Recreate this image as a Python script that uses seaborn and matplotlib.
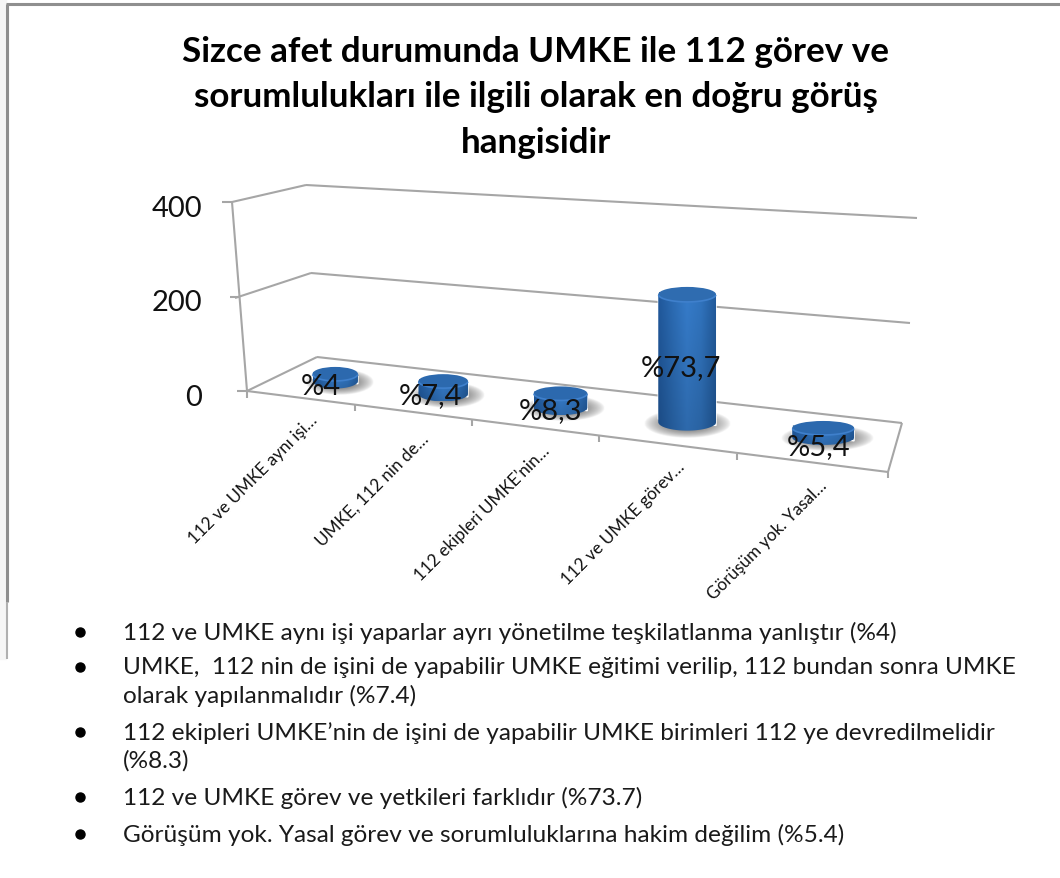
# -*- coding: utf-8 -*-
import numpy as np
import matplotlib
matplotlib.use("Agg")
import matplotlib.pyplot as plt
import matplotlib.transforms as mtransforms
from matplotlib.colors import LinearSegmentedColormap
from matplotlib.patches import Ellipse, PathPatch, Rectangle
from matplotlib.path import Path
import seaborn as sns

W, H = 1060, 879

# --- data ---
categories = ["112 ve UMKE aynı işi…", "UMKE, 112 nin de…", "112 ekipleri UMKE’nin…",
              "112 ve UMKE görev…", "Görüşüm yok. Yasal…"]
counts = [15, 27, 30, 270, 20]
value_labels = ["%4", "%7,4", "%8,3", "%73,7", "%5,4"]
value_ticks = [0, 200, 400]
title_lines = ["Sizce afet durumunda UMKE ile 112 görev ve",
               "sorumlulukları ile ilgili olarak en doğru görüş",
               "hangisidir"]
bullets = [
    ["112 ve UMKE aynı işi yaparlar ayrı yönetilme teşkilatlanma yanlıştır (%4)"],
    ["UMKE,  112 nin de işini de yapabilir UMKE eğitimi verilip, 112 bundan sonra UMKE",
     "olarak yapılanmalıdır (%7.4)"],
    ["112 ekipleri UMKE’nin de işini de yapabilir UMKE birimleri 112 ye devredilmelidir",
     "(%8.3)"],
    ["112 ve UMKE görev ve yetkileri farklıdır (%73.7)"],
    ["Görüşüm yok. Yasal görev ve sorumluluklarına hakim değilim (%5.4)"],
]

# --- layout ---
PX_PER_UNIT = 0.473
label_xy = [(321, 387), (430, 396), (550, 411), (681, 368), (819, 447)]
xtick_end = [(309, 412), (420, 431), (541, 443), (676, 459), (819, 478)]
bullet_y = [633, 668, 733, 798, 835]
line_gap = 28
GRID = "#a6a6a6"


class ChartProjection(mtransforms.Transform):
    # category position + value -> display pixels, gives the 3d tilt of the floor
    input_dims = 2
    output_dims = 2

    def transform_non_affine(self, values):
        u, v = values[:, 0], values[:, 1]
        px = 335 + 103.3 * u + 4.67 * u ** 2
        py = 382 + 12.5 * u + 0.4 * u ** 2 - PX_PER_UNIT * v
        return np.column_stack([px, H - py])


sns.set_style("white")
plt.rcParams["font.family"] = ["Lato", "DejaVu Sans"]

fig = plt.figure(figsize=(W / 100, H / 100), dpi=100, facecolor="white")
ax = fig.add_axes([0, 0, 1, 1])
sns.barplot(x=categories, y=counts, color="#2a66a8", width=0.44, ax=ax, zorder=3)
bars = list(ax.patches)
ax.set_axis_off()

page = mtransforms.Affine2D().scale(1, -1).translate(0, H)
proj = ChartProjection()


def line(xs, ys, color=GRID, lw=1.5, z=1):
    ax.plot(xs, ys, color=color, lw=lw, transform=page, zorder=z, clip_on=False,
            solid_capstyle="butt", scalex=False, scaley=False)


def axis_y(v):
    return 392 - 0.4725 * v


# page frame
ax.add_patch(Rectangle((0, 0), 6, 660, color="#f6f6f6", transform=page, zorder=0))
line([7, 7], [5, 603], color="#8f8f8f", lw=2.2)
line([7, 7], [603, 660], color="#b0b0b0", lw=1.5)
line([6, W], [5, 5], color="#8f8f8f", lw=2.2)

# walls and floor
line([232, 247], [203, 392])
line([306, 917], [186, 219])
line([232, 306], [203, 186])
line([311, 910], [274, 324])
line([235, 311], [299, 274])
line([317, 902], [358, 424])
line([247, 317], [392, 358])
line([247, 888], [392, 473])
line([888, 902], [473, 424])
for tx, ty in [(247, 393), (355, 406), (472, 421), (599, 437), (737, 455), (888, 473)]:
    line([tx, tx], [ty, ty + 6])
for v in value_ticks:
    y = axis_y(v)
    x_axis = 247 - (392 - y) * 15 / 189
    line([x_axis - 10, x_axis], [y, y])
    ax.text(202, y + 6, str(v), transform=page, fontsize=21, ha="right", va="center", color="#111111")

# bars, seaborn rectangles get projected and dressed up as cylinders
cyl_map = LinearSegmentedColormap.from_list(
    "cyl", ["#1f5596", "#2a68ae", "#3478c4", "#2f70b8", "#215897"])
for i, bar in enumerate(bars):
    bar.set_transform(proj)
    bar.set_clip_on(False)
    x0, w, h = bar.get_x(), bar.get_width(), bar.get_height()
    corners = proj.transform(np.array([[x0, 0], [x0 + w, 0], [x0, h], [x0 + w, h]], float))
    corners[:, 1] = H - corners[:, 1]
    cx0, cy0 = corners[:2].mean(axis=0)
    cx1, cy1 = corners[2:].mean(axis=0)
    rx0 = (corners[1, 0] - corners[0, 0]) / 2
    rx1 = (corners[3, 0] - corners[2, 0]) / 2
    tall = h > 100
    ry0 = 8.5 if tall else 7.5
    ry1 = 7.5 if tall else 7

    # soft shadow on the floor
    sx = rx0 * 1.5
    sy = ry0 * 1.7
    sx0 = cx0 + (0 if tall else 4)
    gx, gy = np.meshgrid(np.linspace(-1, 1, 120), np.linspace(-1, 1, 80))
    alpha = np.clip(1 - np.hypot(gx, gy), 0, 1) ** 0.7
    shadow = np.dstack([np.full_like(gx, 0.3), np.full_like(gx, 0.3), np.full_like(gx, 0.3), alpha])
    im = ax.imshow(shadow, extent=(sx0 - sx, sx0 + sx, cy0 + sy + 1, cy0 - sy + 1), aspect="auto",
                   zorder=2, interpolation="bilinear")
    im.set_transform(page)

    # body with a left-right gradient, darker to the base, bottom arc under it
    t = np.linspace(np.pi, 0, 40)
    bottom = np.column_stack([cx0 + rx0 * np.cos(t), cy0 + ry0 * np.sin(t)])
    top = np.array([[cx1 + rx1, cy1], [cx1 - rx1, cy1]])
    verts = np.vstack([bottom, top, bottom[:1]])
    body = PathPatch(Path(verts, closed=False), transform=page, fc="none", ec="none", zorder=3)
    ax.add_patch(body)
    shade = cyl_map(np.linspace(0, 1, 64))[None, :, :3] * np.linspace(1.03, 0.88, 48)[:, None, None]
    ymin = min(cy1, cy0 - 1)
    im = ax.imshow(np.clip(shade, 0, 1),
                   extent=(min(cx0 - rx0, cx1 - rx1), max(cx0 + rx0, cx1 + rx1), cy0 + ry0, ymin),
                   aspect="auto", zorder=3.1, interpolation="bilinear")
    im.set_transform(page)
    im.set_clip_path(body)

    # top face
    top_col = "#2f6cb0" if tall else "#2c69ae"
    ax.add_patch(Ellipse((cx1, cy1), 2 * rx1, 2 * ry1, fc=top_col, ec="none", transform=page, zorder=3.2))
    t = np.linspace(np.pi * 0.95, np.pi * 0.05, 30)
    ax.plot(cx1 + rx1 * np.cos(t), cy1 + ry1 * np.sin(t), color="#3f80cc", lw=1.2, transform=page,
            zorder=3.3, clip_on=False, scalex=False, scaley=False)

    ax.text(label_xy[i][0], label_xy[i][1], value_labels[i], transform=page, fontsize=21,
            ha="center", va="center", color="#111111", zorder=5)
    ax.text(xtick_end[i][0], xtick_end[i][1], categories[i], transform=page, fontsize=12.3,
            rotation=45, rotation_mode="anchor", ha="right", va="top", color="#111111")

# title
for (txt, y) in zip(title_lines, [52, 97, 143]):
    ax.text(536, y, txt, transform=page, fontsize=25.2, fontweight="bold", ha="center", va="center",
            color="black")

# bullet list under the chart
for lines, y in zip(bullets, bullet_y):
    ax.plot([80], [y], marker="o", ms=6.5, color="black", transform=page, clip_on=False,
            scalex=False, scaley=False)
    for k, txt in enumerate(lines):
        ax.text(123, y + k * line_gap, txt, transform=page, fontsize=17.6, ha="left", va="center",
                color="#1a1a1a")

fig.savefig("out.png", dpi=100, facecolor="white")
